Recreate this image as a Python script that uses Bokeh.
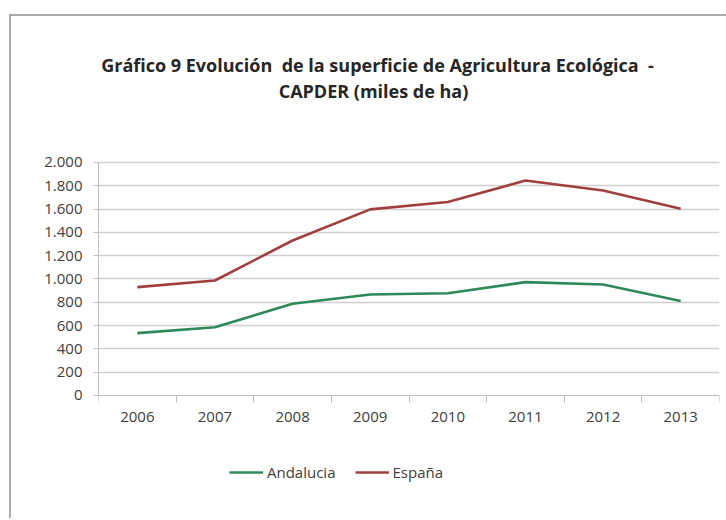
from bokeh.plotting import figure
from bokeh.models import FixedTicker, Legend, LegendItem, Label, Range1d
from bokeh.embed import file_html
from bokeh.resources import INLINE

years = ["2006", "2007", "2008", "2009", "2010", "2011", "2012", "2013"]
andalucia = [535, 586, 787, 867, 878, 973, 953, 810]
espana = [930, 987, 1330, 1597, 1660, 1845, 1760, 1602]
y_ticks = [0, 200, 400, 600, 800, 1000, 1200, 1400, 1600, 1800, 2000]
y_tick_labels = ["0", "200", "400", "600", "800", "1.000", "1.200", "1.400",
                 "1.600", "1.800", "2.000"]
series_names = ["Andalucia", "España"]
title_lines = ["Gráfico 9 Evolución \u00a0de la superficie de Agricultura Ecológica \u00a0-",
               "CAPDER (miles de ha)"]

FONT = "Open Sans"
x = list(range(len(years)))

# frame covers the full height; axis lives at y=0 inside it
p = figure(width=717, height=504, output_backend="svg", toolbar_location=None,
           x_range=Range1d(-0.5, len(years) - 0.5), y_range=Range1d(-1056, 3270),
           min_border_left=89, min_border_right=7, min_border_top=0,
           min_border_bottom=0)
p.title = None
p.outline_line_color = None
p.background_fill_alpha = 0
p.border_fill_alpha = 0
p.styles = {"box-shadow": "inset 2px 2px 0 0 #ABABAB", "margin-top": "14px",
            "margin-left": "9px", "background-color": "white"}

# axes
p.xaxis.fixed_location = 0
p.xaxis.ticker = FixedTicker(ticks=x, minor_ticks=[i - 0.5 for i in range(len(years) + 1)])
p.xaxis.major_label_overrides = {i: y for i, y in enumerate(years)}
p.xaxis.major_tick_line_color = None
p.xaxis.minor_tick_in = 0
p.xaxis.minor_tick_out = 7
p.xaxis.minor_tick_line_color = "#BFBFBF"
p.xaxis.axis_line_color = "#BFBFBF"
p.xaxis.major_label_standoff = 10
p.xaxis.major_label_text_font = FONT
p.xaxis.major_label_text_font_size = "15px"
p.xaxis.major_label_text_color = "#404040"

p.yaxis.ticker = FixedTicker(ticks=y_ticks, minor_ticks=[])
p.yaxis.bounds = (y_ticks[0], y_ticks[-1])
p.yaxis.major_label_overrides = {v: s for v, s in zip(y_ticks, y_tick_labels)}
p.yaxis.major_tick_in = 0
p.yaxis.major_tick_out = 5
p.yaxis.major_tick_line_color = "#BFBFBF"
p.yaxis.axis_line_color = "#BFBFBF"
p.yaxis.major_label_standoff = 11
p.yaxis.major_label_text_font = FONT
p.yaxis.major_label_text_font_size = "15px"
p.yaxis.major_label_text_color = "#404040"

p.xgrid.grid_line_color = None
p.ygrid.ticker = FixedTicker(ticks=y_ticks[1:])
p.ygrid.grid_line_color = "#D0D0D0"
p.ygrid.grid_line_width = 1.3

r_and = p.line(x, andalucia, line_color="#2D8A58", line_width=2.6)
r_esp = p.line(x, espana, line_color="#A13F3E", line_width=2.6)

# title (screen units relative to the frame's bottom-left)
for txt, tx, ty in [(title_lines[0], 279, 454), (title_lines[1], 275, 428)]:
    p.add_layout(Label(text=txt, x=tx, y=ty, x_units="screen", y_units="screen",
                       text_align="center", text_baseline="alphabetic",
                       text_font=FONT, text_font_size="18px", text_font_style="bold",
                       text_color="#262626"))

legend = Legend(items=[LegendItem(label=series_names[0], renderers=[r_and]),
                       LegendItem(label=series_names[1], renderers=[r_esp])],
                orientation="horizontal", location=(131, 36),
                padding=0, margin=0, spacing=19, label_standoff=4,
                glyph_width=34, glyph_height=20,
                border_line_color=None, background_fill_alpha=0,
                label_text_font=FONT, label_text_font_size="15px",
                label_text_color="#404040")
p.add_layout(legend, "center")

open("out.html", "w").write(file_html(p, INLINE))
